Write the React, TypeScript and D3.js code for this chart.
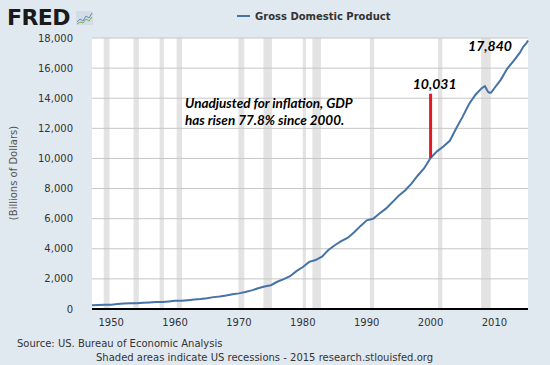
import * as React from 'react'
import * as d3 from 'd3'

// quarterly-ish GDP readings, billions of dollars
const dates = [
  '1947-01', '1948-01', '1949-01', '1950-01', '1951-01', '1952-01', '1953-01', '1954-01',
  '1955-01', '1956-01', '1957-01', '1958-01', '1959-01', '1960-01', '1961-01', '1962-01',
  '1963-01', '1964-01', '1965-01', '1966-01', '1967-01', '1968-01', '1969-01', '1970-01',
  '1971-01', '1972-01', '1973-01', '1974-01', '1975-01', '1976-01', '1977-01', '1978-01',
  '1979-01', '1980-01', '1981-01', '1982-01', '1983-01', '1984-01', '1985-01', '1986-01',
  '1987-01', '1988-01', '1989-01', '1990-01', '1991-01', '1992-01', '1993-01', '1994-01',
  '1995-01', '1996-01', '1997-01', '1998-01', '1999-01', '2000-01', '2001-01', '2002-01',
  '2003-01', '2004-01', '2005-01', '2006-01', '2007-01', '2008-01', '2008-07', '2009-01',
  '2009-04', '2009-07', '2010-01', '2011-01', '2012-01', '2013-01', '2014-01', '2014-07',
  '2015-01', '2015-04',
]
const gdp = [
  243, 260, 275, 281, 336, 360, 387, 386,
  408, 439, 464, 468, 505, 540, 546, 587,
  623, 660, 710, 789, 835, 895, 983, 1038,
  1127, 1238, 1379, 1490, 1581, 1808, 1980, 2180,
  2516, 2790, 3132, 3253, 3480, 3917, 4237, 4506,
  4722, 5086, 5503, 5891, 5992, 6342, 6667, 7085,
  7523, 7869, 8332, 8867, 9354, 10031, 10470, 10789,
  11174, 11988, 12761, 13599, 14215, 14668, 14800, 14420,
  14350, 14390, 14681, 15238, 15974, 16475, 17044, 17420,
  17650, 17840,
]

const recessions = [
  ['1948-11', '1949-10'], ['1953-07', '1954-05'], ['1957-08', '1958-04'],
  ['1960-04', '1961-02'], ['1969-12', '1970-11'], ['1973-11', '1975-03'],
  ['1980-01', '1980-07'], ['1981-07', '1982-11'], ['1990-07', '1991-03'],
  ['2001-03', '2001-11'], ['2007-12', '2009-06'],
]

const yTicks = [0, 2000, 4000, 6000, 8000, 10000, 12000, 14000, 16000, 18000]
const xTicks = ['1950', '1960', '1970', '1980', '1990', '2000', '2010']

const startValue = 10031
const endValue = 17840

const W = 550
const H = 365
const left = 92
const right = 528
const top = 38
const bottom = 309

const font = 'DejaVu Sans, Verdana, sans-serif'
const calloutFont = 'Lato, sans-serif'

const App = () => {
  const parse = d3.timeParse('%Y-%m')
  const x = d3.scaleTime()
    .domain([parse('1947-01') as Date, parse('2015-04') as Date])
    .range([left, right])
  const y = d3.scaleLinear().domain([0, 18000]).range([bottom, top])

  const line = d3.line<number>()
    .x((d, i) => x(parse(dates[i]) as Date))
    .y(d => y(d))

  const fmt = d3.format(',')
  const x2000 = x(parse('2000-01') as Date)

  return (
    <svg width={W} height={H} style={{ position: 'absolute', left: 0, top: 0 }}>
      <rect width={W} height={H} fill="#e1e9f0" />
      <rect x={left} y={top} width={right - left} height={bottom - top} fill="#ffffff" />

      {recessions.map(([a, b], i) => {
        const x0 = x(parse(a) as Date)
        const x1 = x(parse(b) as Date)
        return <rect key={i} x={x0} y={top} width={x1 - x0} height={bottom - top} fill="#e3e3e3" />
      })}

      {yTicks.map(t => (
        <g key={t}>
          {t > 0 && <line x1={left} x2={right} y1={y(t)} y2={y(t)} stroke="#c6c6c6" strokeWidth={1} />}
          <text x={73} y={y(t)} dy="0.35em" textAnchor="end" fontFamily={font} fontSize={10} fill="#333">
            {fmt(t)}
          </text>
        </g>
      ))}

      {xTicks.map(t => (
        <text key={t} x={x(parse(t + '-01') as Date)} y={326} textAnchor="middle"
          fontFamily={font} fontSize={10} fill="#333">{t}</text>
      ))}

      <path d={line(gdp) || ''} fill="none" stroke="#4572a7" strokeWidth={2} />
      <line x1={left} x2={right} y1={bottom} y2={bottom} stroke="#000" strokeWidth={2} />

      {/* red marker at 2000 */}
      <line x1={x2000} x2={x2000} y1={y(startValue)} y2={y(14300)} stroke="#e01b24" strokeWidth={3} />
      <text x={x2000 + 4} y={y(14600)} textAnchor="middle" fontFamily={calloutFont}
        fontStyle="italic" fontWeight="bold" fontSize={14} fill="#000">{fmt(startValue)}</text>
      <text x={490} y={y(17160)} textAnchor="middle" fontFamily={calloutFont}
        fontStyle="italic" fontWeight="bold" fontSize={14} fill="#000">{fmt(endValue)}</text>

      <text fontFamily={calloutFont} fontStyle="italic" fontWeight="bold" fontSize={13.5} fill="#000">
        <tspan x={185} y={108}>Unadjusted for inflation, GDP</tspan>
        <tspan x={185} y={125}>has risen 77.8% since 2000.</tspan>
      </text>

      <text transform="translate(17,173) rotate(-90)" textAnchor="middle" fontFamily={font}
        fontSize={10} fill="#555">(Billions of Dollars)</text>

      {/* legend */}
      <line x1={237} x2={250} y1={16} y2={16} stroke="#4572a7" strokeWidth={2} />
      <text x={255} y={20} fontFamily={font} fontWeight="bold" fontSize={10} fill="#333">Gross Domestic Product</text>

      {/* FRED logo */}
      <text x={7} y={25} fontFamily={font} fontWeight="900" fontSize={22} fill="#1a1a1a"
        letterSpacing={-0.6}>FRED</text>
      <rect x={76} y={11} width={17} height={14} fill="#d4dde6" />
      <polyline points="77,22 80,19 83,21 86,16 89,18 92,13" fill="none" stroke="#5b8bc0" strokeWidth={1} />
      <polyline points="77,24 80,22 83,23 86,19 89,21 92,17" fill="none" stroke="#7fb24a" strokeWidth={1} />

      <text x={17} y={347} fontFamily={font} fontSize={10} fill="#333">Source: US. Bureau of Economic Analysis</text>
      <text x={96} y={361} fontFamily={font} fontSize={10} fill="#333">Shaded areas indicate US recessions - 2015 research.stlouisfed.org</text>
    </svg>
  )
}

export default App
